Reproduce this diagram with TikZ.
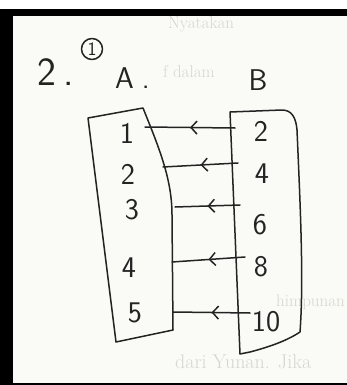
\documentclass[tikz,border=0pt]{standalone}
\usepackage{fontspec}
\usetikzlibrary{arrows.meta,decorations.markings}
\definecolor{paper}{RGB}{250,250,246}
\definecolor{ghost}{RGB}{214,214,209}
\definecolor{ink}{RGB}{35,35,35}
\begin{document}
\begin{tikzpicture}[x=1pt,y=-1pt,>=stealth,inner sep=0pt,
  pen/.style={draw=ink,line width=1.5pt,line cap=round,line join=round},
  hand/.style={text=ink,font=\sffamily\fontsize{30}{30}\selectfont},
  back/.style={text=ghost,anchor=west,font=\rmfamily\fontsize{#1}{#1}\selectfont},
  maparrow/.style={pen,postaction={decorate},decoration={markings,
    mark=at position 0.5 with {\arrow[ink,line width=1.5pt]{Straight Barb[length=6pt,width=13pt]}}}}]
  \useasboundingbox(0,0)rectangle(347,385);
  \fill[paper](0,0)rectangle(347,385);
  \node[back=17](g1)at(168,24){Nyatakan};
  \node[back=17](g2)at(163,72){f dalam};
  \node[back=17](g3)at(276,302){himpunan};
  \node[back=20](g4)at(175,362){dari Yunan. Jika};
  \fill[white](0,0)rectangle(347,9);
  \fill[black](0,9)rectangle(347,16);
  \fill[black](0,9)rectangle(13,385);
  \fill[black](0,383)rectangle(347,385);
  % heading
  \node[hand,font=\sffamily\fontsize{40}{40}\selectfont,anchor=west](no)at(37,72){2\hspace{7pt}.};
  \node[pen,circle,minimum size=21pt,text=ink,font=\sffamily\fontsize{19}{19}\selectfont](c1)at(92,49){1};
  \node[hand,anchor=west](setA)at(115,78){A\hspace{8pt}.};
  \node[hand](setB)at(258,80){B};
  % the two sets
  \draw[pen](88,118)--(143,108)..controls(160,150)and(172,180)..(172,215)--(173,330)--(116,342)--cycle;
  \draw[pen](230,112)--(282,110)..controls(292,110)and(296,118)..(297,130)
    ..controls(300,200)and(304,280)..(300,332)..controls(285,342)and(265,348)..(250,352)--(240,354)--cycle;
  \foreach \n/\x/\y in {1/127/133,2/128/174,3/132/210,4/129/268,5/135/313}
  {
    \node[hand](a\n)at(\x,\y){\n};
  }
  \foreach \n/\x/\y in {2/261/131,4/262/174,6/260/225,8/261/267,10/266/322}
  {
    \node[hand](b\n)at(\x,\y){\n};
  }
  % arrows from B to A
  \foreach \xs/\ys/\xe/\ye [count=\i] in {235/128/145/127,238/163/163/167,240/205/175/207,245/257/172/262,250/313/173/312}
  {
    \coordinate(s\i)at(\xs,\ys);
    \coordinate(e\i)at(\xe,\ye);
    \draw[maparrow](s\i)--(e\i);
  }
\end{tikzpicture}
\end{document}
